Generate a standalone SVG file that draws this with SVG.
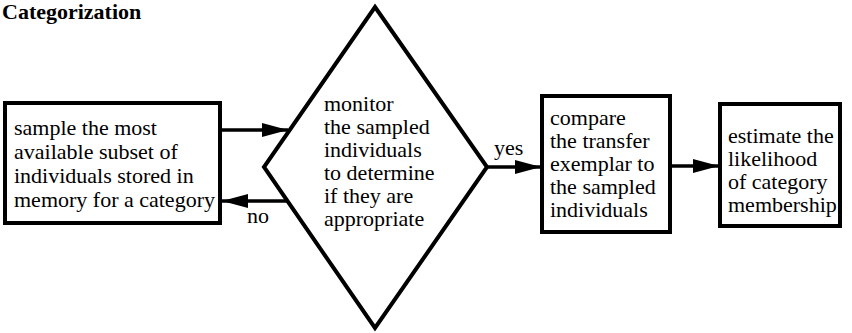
<svg xmlns="http://www.w3.org/2000/svg" width="852" height="333" viewBox="0 0 852 333">
<style>
text{font-family:"Liberation Serif","DejaVu Serif",serif;font-size:22px;fill:#000}
.h{font-weight:bold}
.b{fill:#fff;stroke:#000;stroke-width:4}
.c{stroke:#000;stroke-width:3.5;fill:none}
</style>
<defs>
<marker id="a" viewBox="0 0 26 14" refX="26" refY="7" markerWidth="26" markerHeight="14" markerUnits="userSpaceOnUse" orient="auto">
<path d="M0,0 L26,7 L0,14 z" fill="#000"/>
</marker>
</defs>
<text class="h" x="2" y="19">Categorization</text>
<g id="connectors">
<line class="c" x1="222" y1="130" x2="288" y2="130" marker-end="url(#a)"/>
<line class="c" x1="287" y1="201" x2="222" y2="201" marker-end="url(#a)"/>
<line class="c" x1="487" y1="167" x2="541" y2="167" marker-end="url(#a)"/>
<line class="c" x1="670" y1="166" x2="719" y2="166" marker-end="url(#a)"/>
<text x="247" y="223">no</text>
<text x="494" y="155">yes</text>
</g>
<g id="sample">
<rect class="b" x="5" y="103" width="215" height="120"/>
<text><tspan x="14" y="135">sample the most</tspan><tspan x="14" y="159">available subset of</tspan><tspan x="14" y="183">individuals stored in</tspan><tspan x="14" y="207">memory for a category</tspan></text>
</g>
<g id="monitor">
<polygon class="b" points="375,7 487,167 375,328 264,167" stroke-width="3.5"/>
<text><tspan x="324" y="111">monitor</tspan><tspan x="324" y="134">the sampled</tspan><tspan x="324" y="157">individuals</tspan><tspan x="324" y="180">to determine</tspan><tspan x="324" y="203">if they are</tspan><tspan x="324" y="226">appropriate</tspan></text>
</g>
<g id="compare">
<rect class="b" x="542" y="96" width="128" height="136"/>
<text><tspan x="550" y="125">compare</tspan><tspan x="550" y="148">the transfer</tspan><tspan x="550" y="171">exemplar to</tspan><tspan x="550" y="194">the sampled</tspan><tspan x="550" y="217">individuals</tspan></text>
</g>
<g id="estimate">
<rect class="b" x="720" y="104" width="120" height="122"/>
<text><tspan x="728" y="143">estimate the</tspan><tspan x="728" y="166">likelihood</tspan><tspan x="728" y="189">of category</tspan><tspan x="728" y="212">membership</tspan></text>
</g>
</svg>
